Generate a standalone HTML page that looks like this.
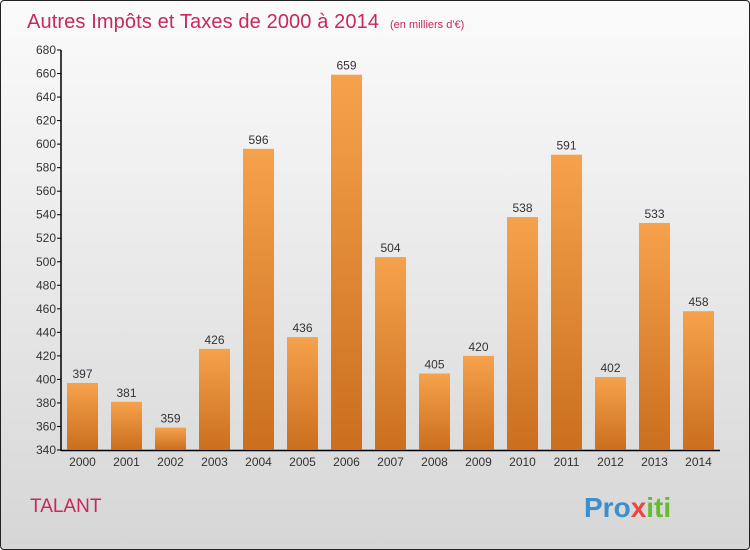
<!DOCTYPE html>
<html><head><meta charset="utf-8"><style>
body{margin:0;width:750px;height:550px;overflow:hidden;font-family:"Liberation Sans",sans-serif;}
#wrap{position:absolute;left:0;top:0;width:748px;height:548px;border:1px solid #222;border-radius:4px;background:linear-gradient(#fbfbfb,#d6d6d6);}
</style></head><body>
<div id="wrap">
<svg id="chart" width="750" height="550" style="position:absolute;left:-1px;top:-1px">
<defs><linearGradient id="bg" x1="0" y1="0" x2="0" y2="1"><stop offset="0" stop-color="#f6a24c"/><stop offset="1" stop-color="#c96f1e"/></linearGradient></defs>
<text x="27" y="28" font-size="20" fill="#c8285a" textLength="352">Autres Impôts et Taxes de 2000 à 2014</text>
<text x="390" y="28" font-size="11" fill="#c8285a">(en milliers d'€)</text>
<text x="30" y="512" font-size="19" fill="#c8285a">TALANT</text>
<text x="584" y="517" font-size="28" font-weight="bold" fill="#3a8fd0">Pro<tspan fill="#e44">x</tspan><tspan fill="#6b3">iti</tspan></text>
<g id="g"></g>
</svg></div>
<script>
const years=["2000","2001","2002","2003","2004","2005","2006","2007","2008","2009","2010","2011","2012","2013","2014"];
const values=[397,381,359,426,596,436,659,504,405,420,538,591,402,533,458];
const ticks=[340,360,380,400,420,440,460,480,500,520,540,560,580,600,620,640,660,680];
const NS="http://www.w3.org/2000/svg",g=document.getElementById('g');
const y=v=>450-(v-340)*400/340, x=i=>67+44*i;
function mk(t,a,txt){const e=document.createElementNS(NS,t);for(const k in a)e.setAttribute(k,a[k]);if(txt!==undefined)e.textContent=txt;g.appendChild(e);return e;}
let ax=mk('line',{x1:61,y1:50,x2:61,y2:451,stroke:'#000','stroke-width':1.5});


let xa=mk('line',{x1:61,y1:450.5,x2:720,y2:450.5,stroke:'#000','stroke-width':1.5});


ticks.forEach(t=>{
 let l=mk('line',{x1:57,y1:y(t),x2:61,y2:y(t),stroke:'#000'});
 
 
 let tx=mk('text',{x:56,y:y(t)+4,'font-size':12,'text-anchor':'end',fill:'#333'},t);
 
 
});
years.forEach((yr,i)=>{
 let b=mk('rect',{x:x(i),y:y(values[i]),width:31,height:450-y(values[i]),fill:'url(#bg)'});
 
 
 let v=mk('text',{x:x(i)+15.5,y:y(values[i])-5,'font-size':12,'text-anchor':'middle',fill:'#333'},values[i]);
 
 
 let xl=mk('text',{x:x(i)+15.5,y:466,'font-size':12,'text-anchor':'middle',fill:'#333'},yr);
 
 
});
</script>
</body></html>
